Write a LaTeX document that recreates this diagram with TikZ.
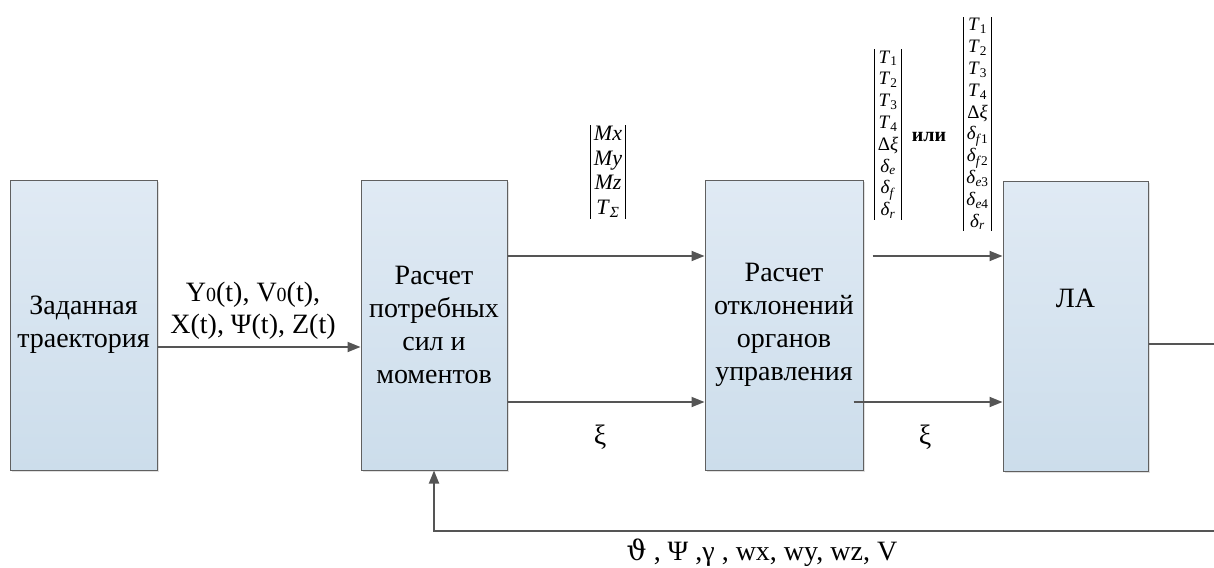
\documentclass[tikz,border=0pt]{standalone}
\usepackage{fontspec}
\setmainfont{Liberation Serif}
\newfontfamily\dvs{DejaVu Serif}
\usetikzlibrary{arrows.meta,shadows}
\definecolor{boxtop}{HTML}{E0EAF4}
\definecolor{boxbot}{HTML}{CCDDEB}
\definecolor{boxedge}{HTML}{606060}
\definecolor{linecol}{HTML}{555555}
\newcommand\tee[1]{\textit{T}\textsubscript{#1}}
\newcommand\dlt[1]{\textit{δ}\textsubscript{#1}}
\tikzset{
  blk/.style={draw=boxedge, line width=1pt, top color=boxtop, bottom color=boxbot,
    minimum width=#1, minimum height=290, inner sep=0pt, align=center,
    font=\fontsize{28}{33}\selectfont,
    drop shadow={shadow xshift=2pt, shadow yshift=-2pt, opacity=0.12, fill=black}},
  arr/.style={draw=linecol, line width=1.8pt, -{Triangle[length=13pt,width=10pt]}},
  ln/.style={draw=linecol, line width=1.8pt},
  lbl/.style={font=\fontsize{28}{32}\selectfont, align=center, inner sep=0pt},
  mat/.style={align=center, inner xsep=3pt, inner ysep=1pt},
  bar/.style={draw=black, line width=1.3pt},
}
\begin{document}
\begin{tikzpicture}[x=1pt,y=-1pt]
\useasboundingbox (0,0) rectangle (1214,567);
% blocks
\node[blk=147] (b1) at (83.5,325) {Заданная\\траектория};
\node[blk=146] (b2) at (434,325) {Расчет\\потребных\\сил и\\моментов};
\node[blk=158] (b3) at (784,325) {Расчет\\отклонений\\органов\\управления};
\node[blk=145] (b4) at (1075.5,326) {};
\node[lbl] (la) at (1075.5,298) {ЛА};
% connectors
\draw[arr] (b1.east |- 0,347) -- (b2.west |- 0,347);
\draw[arr] (b2.east |- 0,256) -- (b3.west |- 0,256);
\draw[arr] (b2.east |- 0,402) -- (b3.west |- 0,402);
\draw[arr] ([xshift=9pt]b3.east |- 0,256) -- (b4.west |- 0,256);
\draw[arr] ([xshift=-10pt]b3.east |- 0,402) -- (b4.west |- 0,402);
\coordinate (outR) at (1214,344);
\draw[ln] (b4.east |- outR) -- (outR);
\coordinate (fbR) at (1214,531);
\draw[arr] (fbR) -| (b2.south);
% labels
\node[lbl] (lin) at (253,311) {Y{\fontsize{20}{20}\selectfont 0}(t), V{\fontsize{20}{20}\selectfont 0}(t),\\X(t), Ψ(t), Z(t)};
\node[lbl] (xi1) at (600,437) {ξ};
\node[lbl] (xi2) at (925,437) {ξ};
\node[lbl] (fb) at (762,553) {{\dvs ϑ} , Ψ ,γ , wx, wy, wz, V};
% matrices
\node[mat, font=\fontsize{22}{24.5}\selectfont] (m1) at (608,172)
  {\textit{Mx}\\\textit{My}\\\textit{Mz}\\\tee{\textit{Σ}}};
\draw[bar] (m1.north west) -- (m1.south west);
\draw[bar] (m1.north east) -- (m1.south east);
\node[mat, font=\fontsize{19}{21.8}\selectfont] (m2) at (888,134.5)
  {\tee{1}\\\tee{2}\\\tee{3}\\\tee{4}\\Δ\textit{ξ}\\\dlt{\textit{e}}\\\dlt{\textit{f}}\\\dlt{\textit{r}}};
\draw[bar] (m2.north west) -- (m2.south west);
\draw[bar] (m2.north east) -- (m2.south east);
\node[font=\fontsize{20}{24}\selectfont\bfseries, inner sep=0pt] (ili) at (929,137) {или};
\node[mat, font=\fontsize{19}{21.8}\selectfont] (m3) at (977.5,124)
  {\tee{1}\\\tee{2}\\\tee{3}\\\tee{4}\\Δ\textit{ξ}\\\dlt{\textit{f}1}\\\dlt{\textit{f}2}\\\dlt{\textit{e}3}\\\dlt{\textit{e}4}\\\dlt{\textit{r}}};
\draw[bar] (m3.north west) -- (m3.south west);
\draw[bar] (m3.north east) -- (m3.south east);
\end{tikzpicture}
\end{document}
